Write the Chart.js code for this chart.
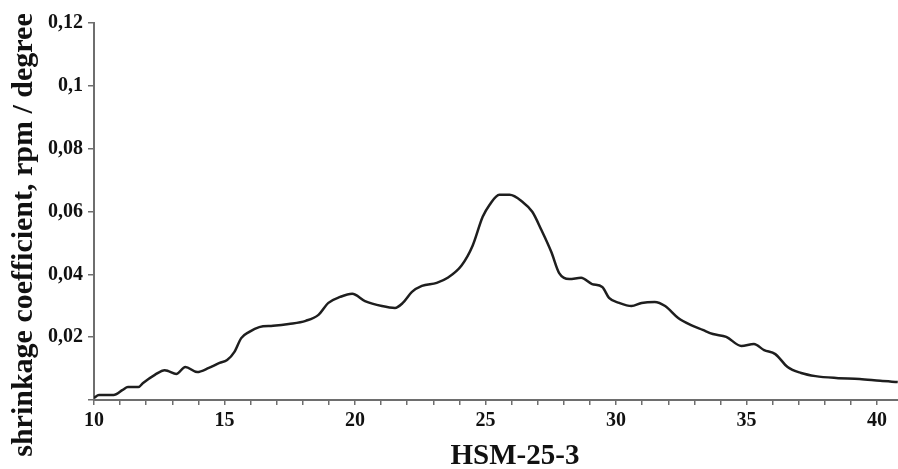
<!DOCTYPE html>
<html>
<head>
<meta charset="utf-8">
<script src="https://cdn.jsdelivr.net/npm/chart.js@4.4.1/dist/chart.umd.min.js"></script>
<style>
  html, body { margin: 0; padding: 0; background: #fff; }
  #wrap { width: 898px; height: 469px; }
</style>
</head>
<body>
<div id="wrap"><canvas id="shrinkChart"></canvas></div>
<script>
// 2θ angle (degrees) and shrinkage coefficient
const angle = [10.00, 10.19, 10.75, 11.10, 11.30, 11.70, 11.88, 12.33, 12.71, 12.85, 13.15, 13.50, 13.95, 14.40, 14.81,
  15.10, 15.38, 15.64, 15.95, 16.33, 16.86, 17.46, 18.11, 18.60, 18.98, 19.43, 19.89,
  20.38, 21.03, 21.53, 21.83, 22.18, 22.56, 23.13, 23.55, 24.08, 24.50, 24.89,
  25.15, 25.53, 25.92, 26.41, 26.79, 27.14, 27.52, 27.82, 28.21, 28.66, 29.08, 29.47, 29.73,
  30.12, 30.59, 30.98, 31.48, 31.88, 32.38, 32.85, 33.32, 33.71, 34.22, 34.80,
  35.28, 35.67, 36.10, 36.57, 37.09, 37.64, 38.43, 39.33, 40.12, 40.79];
const shrinkage = [0.0007, 0.0016, 0.0016, 0.0032, 0.0041, 0.0041, 0.0054, 0.0080, 0.0095, 0.0092, 0.0083, 0.0105, 0.0089, 0.0102, 0.0118,
  0.0127, 0.0153, 0.0197, 0.0217, 0.0232, 0.0236, 0.0242, 0.0252, 0.0271, 0.0309, 0.0328, 0.0338,
  0.0315, 0.0299, 0.0293, 0.0309, 0.0344, 0.0363, 0.0373, 0.0389, 0.0428, 0.0490, 0.0583,
  0.0621, 0.0653, 0.0653, 0.0631, 0.0599, 0.0541, 0.0471, 0.0404, 0.0385, 0.0389, 0.0369, 0.0360, 0.0325,
  0.0309, 0.0299, 0.0309, 0.0312, 0.0299, 0.0261, 0.0239, 0.0223, 0.0210, 0.0201, 0.0172,
  0.0178, 0.0159, 0.0146, 0.0105, 0.0086, 0.0076, 0.0070, 0.0067, 0.0061, 0.0057];
const xLabelEvery = 5;
const yTitle = 'shrinkage coefficient, rpm / degree';
const xTitle = 'HSM-25-3';

const SERIF = '"Liberation Serif", "Times New Roman", serif';
const AXIS_GRAY = '#6e6e6e';

// axis titles drawn by hand so they sit where the original has them
const axisTitles = {
  id: 'axisTitles',
  afterDraw(chart) {
    const ctx = chart.ctx;
    ctx.save();
    ctx.fillStyle = '#111';
    ctx.textAlign = 'center';
    ctx.textBaseline = 'middle';
    ctx.font = 'bold 29px ' + SERIF;
    ctx.fillText(xTitle, 515, 457);
    ctx.font = 'bold 30px ' + SERIF;
    ctx.translate(24, 235);
    ctx.rotate(-Math.PI / 2);
    ctx.fillText(yTitle, 0, 0);
    ctx.restore();
  }
};

const points = angle.map((a, i) => ({ x: a, y: shrinkage[i] }));

new Chart(document.getElementById('shrinkChart'), {
  type: 'line',
  data: {
    datasets: [{
      data: points,
      borderColor: '#1e1e1e',
      borderWidth: 2.5,
      pointRadius: 0,
      fill: false,
      cubicInterpolationMode: 'monotone'
    }]
  },
  options: {
    responsive: true,
    maintainAspectRatio: false,
    animation: false,
    layout: { padding: { top: 23, right: 0, left: 0, bottom: 0 } },
    plugins: { legend: { display: false }, tooltip: { enabled: false } },
    scales: {
      x: {
        type: 'linear',
        min: 10,
        max: 40.8,
        border: { color: AXIS_GRAY, width: 2 },
        grid: { drawOnChartArea: false, tickLength: 5, color: AXIS_GRAY, lineWidth: 1.5 },
        ticks: {
          stepSize: 1,
          autoSkip: false,
          includeBounds: false,
          maxRotation: 0,
          padding: 4,
          color: '#111',
          font: { family: SERIF, size: 20, weight: 'bold' },
          callback: (v) => (v % xLabelEvery === 0 ? String(v) : '')
        },
        afterFit: (scale) => { scale.height = 69; }
      },
      y: {
        min: 0,
        max: 0.12,
        border: { color: AXIS_GRAY, width: 2 },
        grid: { drawOnChartArea: false, tickLength: 6, color: AXIS_GRAY, lineWidth: 1.5 },
        ticks: {
          stepSize: 0.02,
          padding: 5,
          color: '#111',
          font: { family: SERIF, size: 20, weight: 'bold' },
          callback: (v) => (v === 0 ? '' : String(+v.toFixed(2)).replace('.', ','))
        },
        afterFit: (scale) => { scale.width = 94; }
      }
    }
  },
  plugins: [axisTitles]
});
</script>
</body>
</html>
